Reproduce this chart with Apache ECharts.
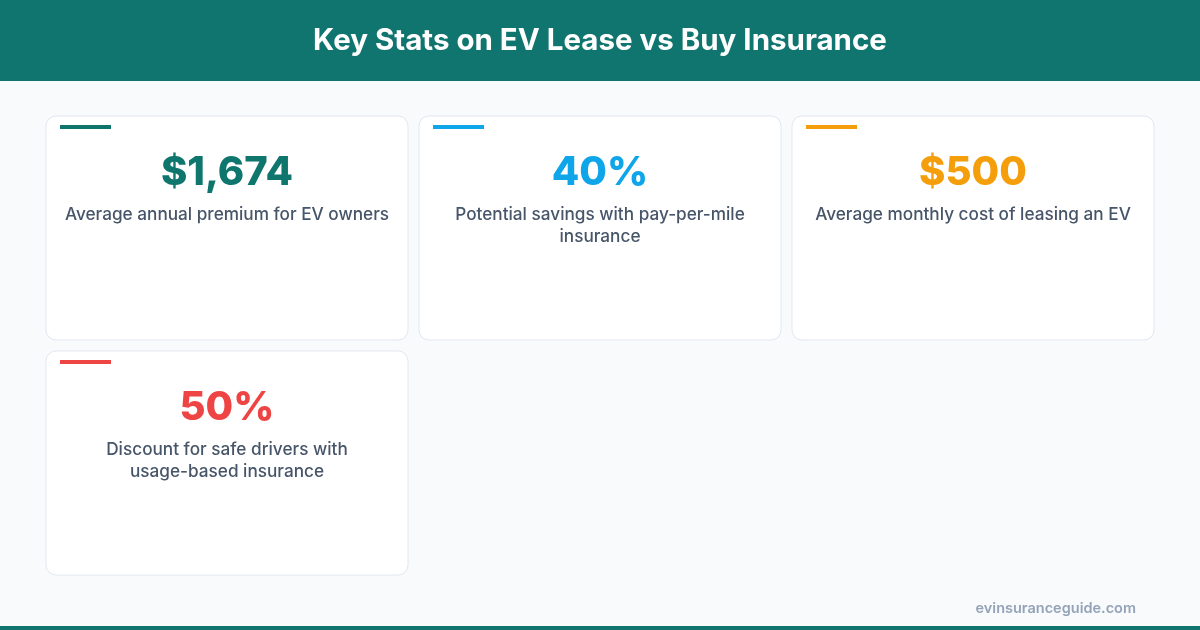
<!DOCTYPE html>
<html><head><meta charset="utf-8">
<script src="https://cdn.jsdelivr.net/npm/echarts@6/dist/echarts.min.js"></script>
<style>html,body{margin:0;padding:0;background:#f8fafc}#c{width:1200px;height:630px}</style>
</head><body><div id="c"></div>
<script>
const statValues = ['$1,674', '40%', '$500', '50%'];
const statLabels = ['Average annual premium for EV owners', 'Potential savings with pay-per-mile\ninsurance', 'Average monthly cost of leasing an EV', 'Discount for safe drivers with\nusage-based insurance'];
const statColors = ['#0f766e', '#0ea5e9', '#f59e0b', '#ef4444'];
const title = 'Key Stats on EV Lease vs Buy Insurance';
const source = 'evinsuranceguide.com';

const chart = echarts.init(document.getElementById('c'), null, {renderer:'canvas'});
const F = 'Inter, "Noto Sans", sans-serif';
const els = [
  {type:'rect', shape:{x:0,y:0,width:1200,height:630}, style:{fill:'#f8fafc'}},
  {type:'rect', shape:{x:0,y:0,width:1200,height:81}, style:{fill:'#10756e'}},
  {type:'text', x:600, y:41, style:{text:title, fill:'#fff', font:'bold 29.5px '+F, align:'center', verticalAlign:'middle'}},
  {type:'rect', shape:{x:0,y:626,width:1200,height:4}, style:{fill:'#10756e'}},
  {type:'text', x:1136, y:609, style:{text:source, fill:'#94a3b8', font:'600 14.5px '+F, align:'right', verticalAlign:'middle'}}
];
statValues.forEach((v,i)=>{
  const col=i%3, row=Math.floor(i/3);
  const x=46+col*373, y=116+row*235, w=362, h=224;
  els.push({type:'rect', shape:{x:x,y:y,width:w,height:h,r:10}, style:{fill:'#fff', stroke:'#e2e8f0', lineWidth:1}});
  els.push({type:'rect', shape:{x:x+14,y:y+9,width:51,height:4}, style:{fill:statColors[i]}});
  els.push({type:'text', x:x+w/2, y:y+57, style:{text:v, fill:statColors[i], font:'800 40px '+F, align:'center', verticalAlign:'middle'}});
  els.push({type:'text', x:x+w/2, y:y+88, style:{text:statLabels[i], fill:'#475569', font:'500 17.2px '+F, align:'center', verticalAlign:'top', lineHeight:22}});
});
chart.setOption({graphic:{elements:els}});
</script></body></html>
